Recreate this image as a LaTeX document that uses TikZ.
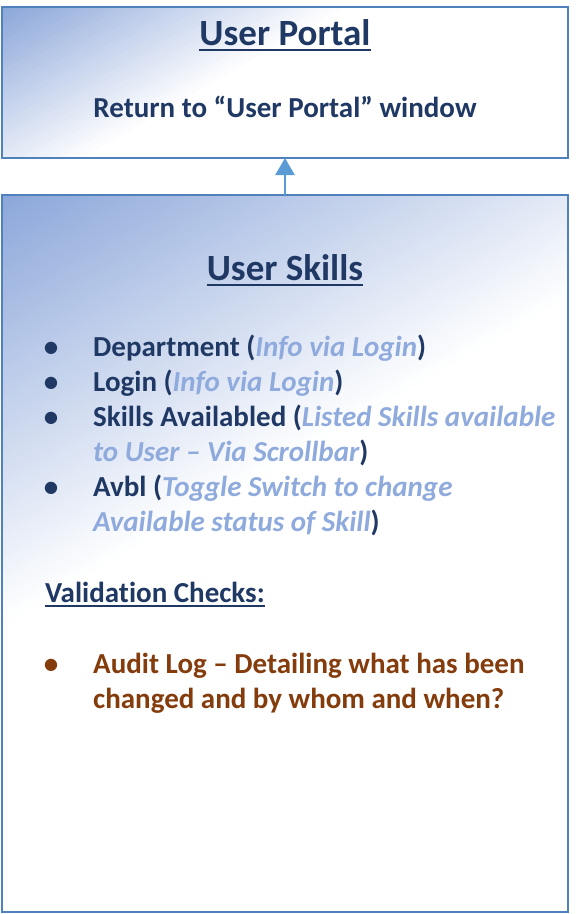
\documentclass[tikz,border=0pt]{standalone}
\usepackage{fontspec}
\setmainfont{Carlito}[Ligatures=NoCommon]
\usetikzlibrary{arrows.meta,positioning}
\definecolor{frameblue}{HTML}{4F81BD}
\definecolor{fadeblue}{HTML}{8CA7DA}
\definecolor{arrowblue}{HTML}{5B9BD5}
\definecolor{navy}{HTML}{1F3864}
\definecolor{hintblue}{HTML}{8FAADC}
\definecolor{rust}{HTML}{843C0C}
\newcommand{\hint}[1]{{\color{hintblue}\itshape #1}}
% diagonal fade of a panel: #1 = node, #2 = number of 5pt colour bands
\newcommand{\panelfade}[2]{%
  \begin{scope}
    \clip (#1.north west) rectangle (#1.south east);
    \begin{scope}[shift={(#1.north west)},rotate=30]
      \foreach \i in {1,...,#2} {
        \pgfmathsetmacro\shadepct{100-100*(\i-1)/#2}
        \fill[fadeblue!\shadepct!white] (-900pt,{-5pt*(\i-1)}) rectangle (900pt,{-5pt*\i-0.6pt});
      }
    \end{scope}
  \end{scope}
  \draw[frame] (#1.north west) rectangle (#1.south east);}
\tikzset{
  frame/.style={draw=frameblue,line width=2pt},
  panel/.style={frame,fill=white,minimum width=566pt,anchor=north west,inner sep=0pt,outer sep=0pt},
  ttl/.style={font=\fontsize{37}{44}\selectfont\bfseries,text=navy,anchor=base,inner sep=0pt},
  txt/.style={font=\fontsize{29}{35}\selectfont\bfseries,text=navy,anchor=base west,inner sep=0pt},
  dot/.style={txt,anchor=base},
  uline/.style={navy,line width=2.2pt},
  arr/.style={-{Triangle[length=17pt,width=19pt]},arrowblue,line width=2.5pt}
}
\begin{document}
\begin{tikzpicture}[x=1pt,y=-1pt]
  \useasboundingbox (0,0) rectangle (583,914);
  \node[panel,minimum height=151pt] (portal) at (2,7) {};
  \node[panel,minimum height=717pt] (skills) at (2,195) {};
  \panelfade{portal}{34}
  \panelfade{skills}{74}
  \draw[arr] (skills.north)--(portal.south);

  % top window
  \node[ttl] (portalttl) at (285,45) {User Portal};
  \draw[uline] ([yshift=-5pt]portalttl.base west)--([yshift=-5pt]portalttl.base east);
  \node[txt,anchor=base] (portalret) at (285,117) {Return to “User Portal” window};

  % skills window
  \node[ttl] (skillsttl) at (285,280) {User Skills};
  \draw[uline] ([yshift=-5pt]skillsttl.base west)--([yshift=-5pt]skillsttl.base east);
  \foreach \y in {356,391,426,496}
    \node[dot] (bul\y) at (51,\y) {\textbullet};
  \node[txt] (dept) at (93,356) {Department (\hint{Info via Login})};
  \node[txt] (login) at (93,391) {Login (\hint{Info via Login})};
  \node[txt] (avail1) at (93,426) {Skills Availabled (\hint{Listed Skills available}};
  \node[txt] (avail2) at (93,461) {\hint{to User – Via Scrollbar})};
  \node[txt] (avbl1) at (93,496) {Avbl (\hint{Toggle Switch to change}};
  \node[txt] (avbl2) at (93,531) {\hint{Available status of Skill})};

  \node[txt] (checks) at (45,602) {Validation Checks:};
  \draw[uline,line width=1.8pt] ([yshift=-4pt]checks.base west)--([yshift=-4pt]checks.base east);
  \node[dot,text=rust] (bulaudit) at (51,673) {\textbullet};
  \node[txt,text=rust] (audit1) at (93,673) {Audit Log – Detailing what has been};
  \node[txt,text=rust] (audit2) at (93,708) {changed and by whom and when?};
\end{tikzpicture}
\end{document}
